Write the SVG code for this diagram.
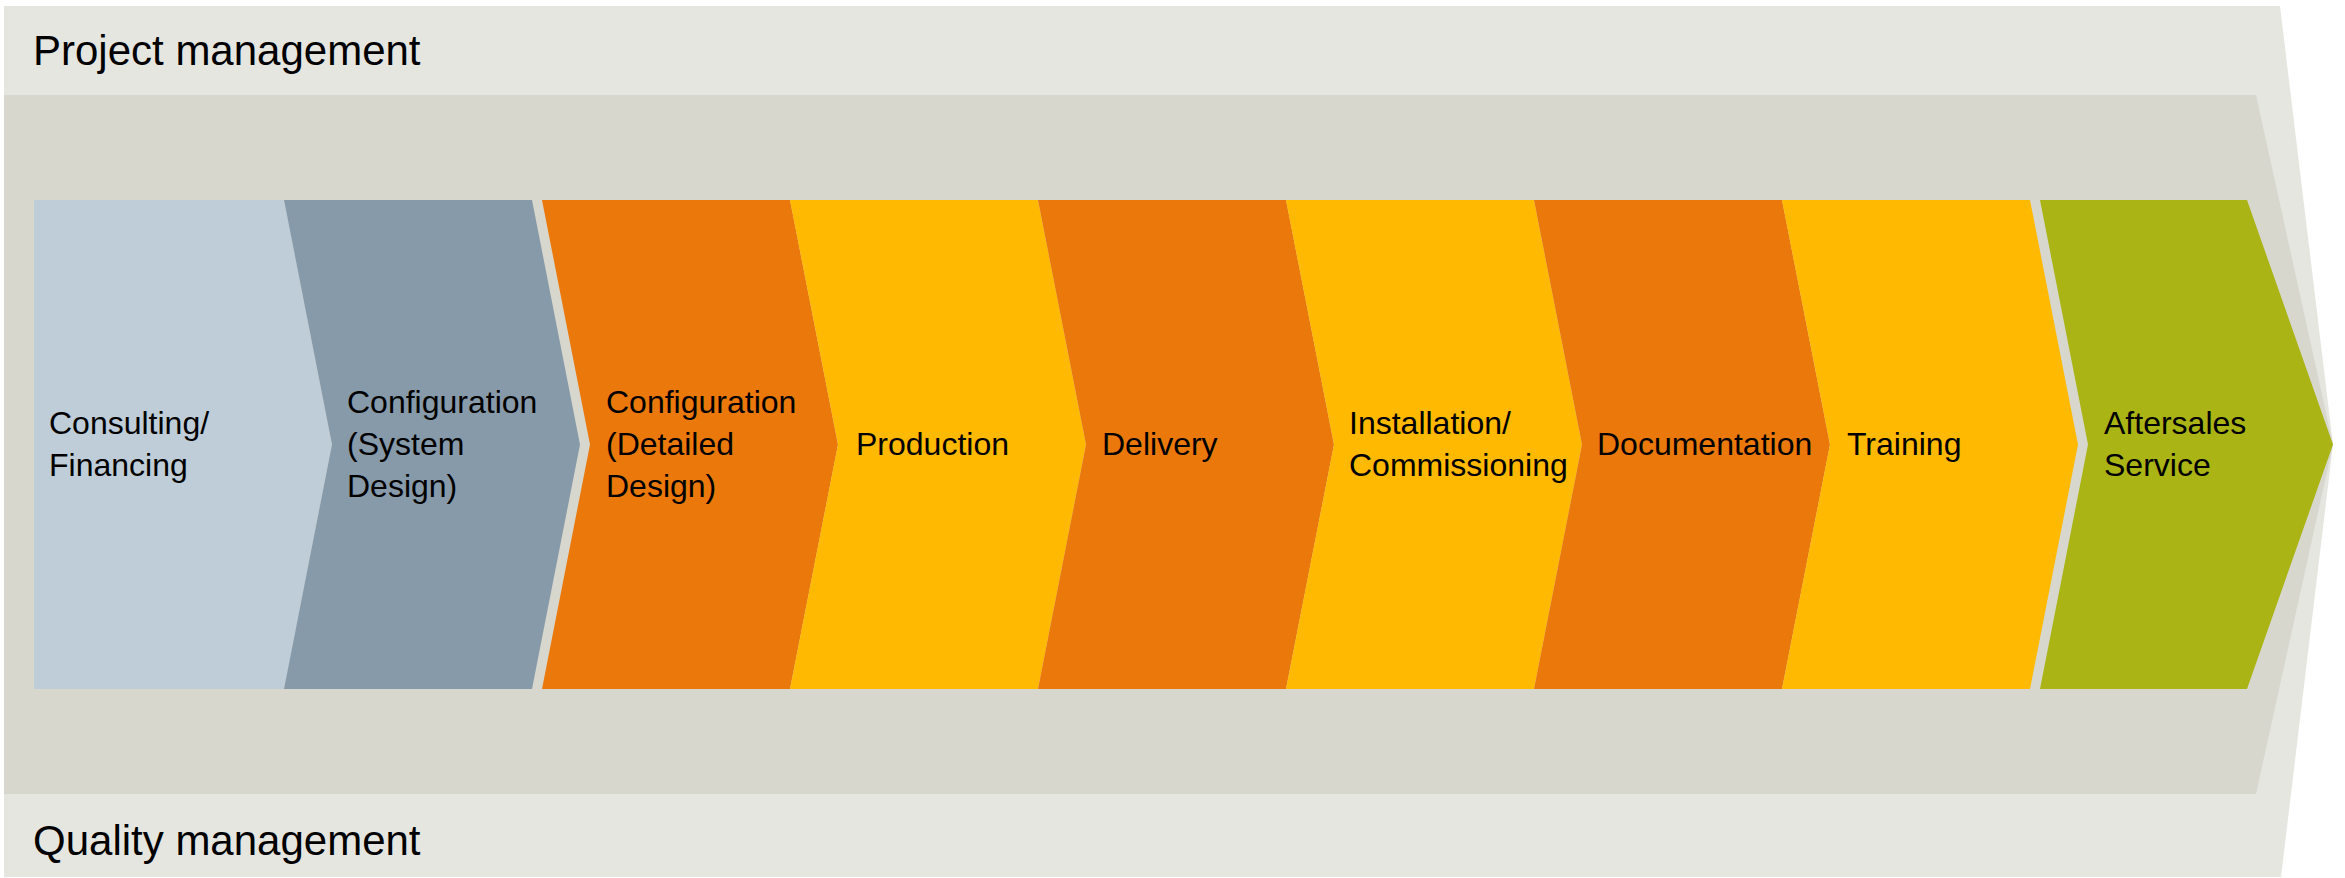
<svg xmlns="http://www.w3.org/2000/svg" width="2345" height="878" viewBox="0 0 2345 878">
<style>
.band1{fill:#E5E6E0}
.band2{fill:#D7D7CD}
.c-light{fill:#BECDD7}
.c-grey{fill:#879AAA}
.c-orange{fill:#EB780B}
.c-yellow{fill:#FFB900}
.c-green{fill:#AAB414}
text{font-family:"Liberation Sans",Arial,sans-serif;fill:#000}
.t{font-size:32px}
.h{font-size:42px}
</style>
<rect width="2345" height="878" fill="#FFFFFF"/>
<g id="project-management">
<polygon class="band1" points="4,6 2280,6 2333,444.5 2281,877 4,877"/>
<text class="h" x="33" y="65">Project management</text>
</g>
<g id="quality-management">
<polygon class="band2" points="4,95 2256,95 2333,444.5 2256,794 4,794"/>
<text class="h" x="33" y="855">Quality management</text>
</g>
<g id="consulting">
<polygon class="c-light" points="34,200 284,200 332,444.5 284,689 34,689"/>
<text class="t"><tspan x="49" y="434">Consulting/</tspan><tspan x="49" y="476">Financing</tspan></text>
</g>
<g id="config-system">
<polygon class="c-grey" points="284,200 532,200 580,444.5 532,689 284,689 332,444.5"/>
<text class="t"><tspan x="347" y="413">Configuration</tspan><tspan x="347" y="455">(System</tspan><tspan x="347" y="497">Design)</tspan></text>
</g>
<g id="config-detailed">
<polygon class="c-orange" points="542,200 790,200 838,444.5 790,689 542,689 590,444.5"/>
<text class="t"><tspan x="606" y="413">Configuration</tspan><tspan x="606" y="455">(Detailed</tspan><tspan x="606" y="497">Design)</tspan></text>
</g>
<g id="production">
<polygon class="c-yellow" points="790,200 1038,200 1086,444.5 1038,689 790,689 838,444.5"/>
<text class="t" x="856" y="455">Production</text>
</g>
<g id="delivery">
<polygon class="c-orange" points="1038,200 1286,200 1334,444.5 1286,689 1038,689 1086,444.5"/>
<text class="t" x="1102" y="455">Delivery</text>
</g>
<g id="installation">
<polygon class="c-yellow" points="1286,200 1534,200 1582,444.5 1534,689 1286,689 1334,444.5"/>
<text class="t"><tspan x="1349" y="434">Installation/</tspan><tspan x="1349" y="476">Commissioning</tspan></text>
</g>
<g id="documentation">
<polygon class="c-orange" points="1534,200 1782,200 1830,444.5 1782,689 1534,689 1582,444.5"/>
<text class="t" x="1597" y="455">Documentation</text>
</g>
<g id="training">
<polygon class="c-yellow" points="1782,200 2030,200 2078,444.5 2030,689 1782,689 1830,444.5"/>
<text class="t" x="1847" y="455">Training</text>
</g>
<g id="aftersales">
<polygon class="c-green" points="2040,200 2247,200 2333,444.5 2247,689 2040,689 2088,444.5"/>
<text class="t"><tspan x="2104" y="434">Aftersales</tspan><tspan x="2104" y="476">Service</tspan></text>
</g>
<g id="connectors"/>
</svg>
